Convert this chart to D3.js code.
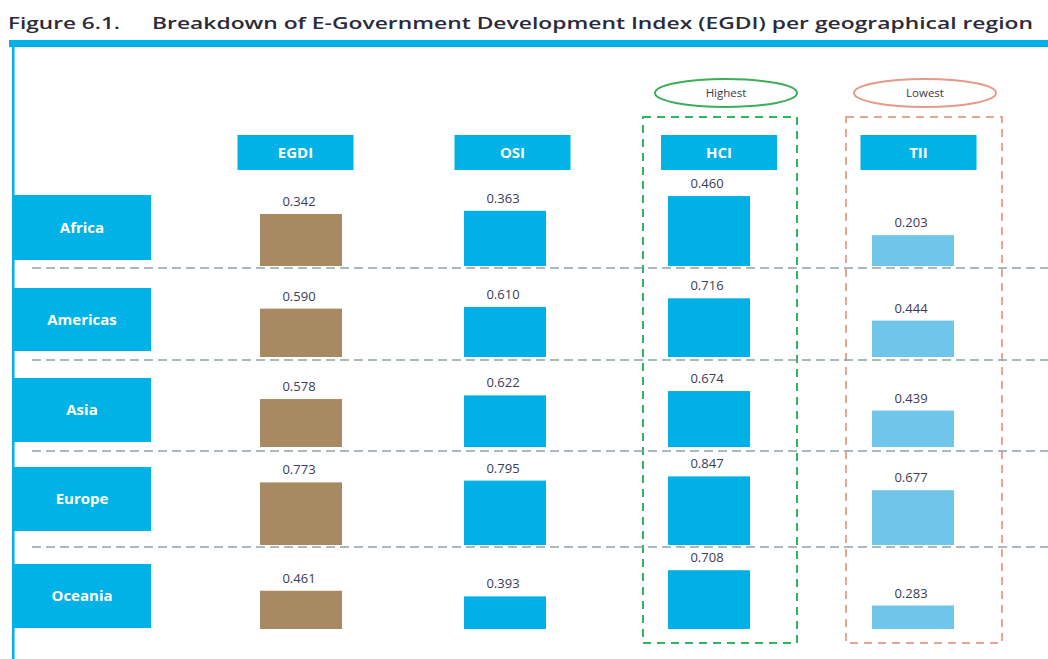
<!DOCTYPE html>
<html>
<head>
<meta charset="utf-8">
<script src="https://cdn.jsdelivr.net/npm/d3@7"></script>
<style>
  body { margin: 0; background: #fff; }
  text { font-family: "Open Sans", "DejaVu Sans", sans-serif; }
</style>
</head>
<body>
<div id="chart"></div>
<script>
// data
var regions = ["Africa", "Americas", "Asia", "Europe", "Oceania"]
var indexNames = ["EGDI", "OSI", "HCI", "TII"]
var egdiValues = [0.342, 0.590, 0.578, 0.773, 0.461]
var osiValues = [0.363, 0.610, 0.622, 0.795, 0.393]
var hciValues = [0.460, 0.716, 0.674, 0.847, 0.708]
var tiiValues = [0.203, 0.444, 0.439, 0.677, 0.283]
var titleNumber = "Figure 6.1."
var titleText = "Breakdown of E-Government Development Index (EGDI) per geographical region"

var outerWidth = 1048, outerHeight = 659

// layout of each row band (label box, bar baseline, px per index unit)
var rowLayout = [
    { boxTop: 195, boxBottom: 260, base: 266, pxPerUnit: 152, divider: 268 },
    { boxTop: 288, boxBottom: 351, base: 357, pxPerUnit: 82, divider: 360 },
    { boxTop: 378, boxBottom: 442, base: 447, pxPerUnit: 83, divider: 451 },
    { boxTop: 467, boxBottom: 531, base: 545, pxPerUnit: 81, divider: 547 },
    { boxTop: 564, boxBottom: 628, base: 629, pxPerUnit: 83, divider: null }
]
var headerCenters = [295.5, 512.5, 719, 918.5]
var barColors = ["#a88a62", "#00b0e6", "#00b0e6", "#6fc6ea"]
var blue = "#00b2e6"

var series = [egdiValues, osiValues, hciValues, tiiValues]

var svg = d3.select("#chart")
    .append("svg")
    .attr("width", outerWidth)
    .attr("height", outerHeight)

// title
svg.append("text")
    .attr("x", 8).attr("y", 29)
    .attr("font-size", "17px")
    .attr("font-weight", 600)
    .attr("fill", "#2b2b3a")
    .attr("textLength", 112).attr("lengthAdjust", "spacingAndGlyphs")
    .text(titleNumber)
svg.append("text")
    .attr("x", 152).attr("y", 29)
    .attr("font-size", "17px")
    .attr("font-weight", 600)
    .attr("fill", "#2b2b3a")
    .attr("textLength", 1033 - 152).attr("lengthAdjust", "spacingAndGlyphs")
    .text(titleText)

// frame lines
svg.append("rect").attr("x", 9).attr("y", 40).attr("width", outerWidth - 9).attr("height", 7).attr("fill", blue)
svg.append("rect").attr("x", 12).attr("y", 40).attr("width", 2.5).attr("height", outerHeight - 40).attr("fill", blue)

// column positions
var xScale = d3.scalePoint().domain(indexNames).range([301, 913])
var barWidth = 82

// highlight boxes (HCI highest, TII lowest)
var highlights = [
    { name: "HCI", label: "Highest", color: "#2fb55c", ellipse: "#3aae5a", x0: 643, x1: 797, cx: 726 },
    { name: "TII", label: "Lowest", color: "#eaa496", ellipse: "#e59a8a", x0: 846, x1: 1002, cx: 925 }
]
highlights.forEach(function(h) {
    svg.append("rect")
        .attr("x", h.x0).attr("y", 117)
        .attr("width", h.x1 - h.x0).attr("height", 643 - 117)
        .attr("fill", "none")
        .attr("stroke", h.color)
        .attr("stroke-width", 2)
        .attr("stroke-dasharray", "8,6")
    svg.append("ellipse")
        .attr("cx", h.cx).attr("cy", 93)
        .attr("rx", 71).attr("ry", 14)
        .attr("fill", "none")
        .attr("stroke", h.ellipse)
        .attr("stroke-width", 2)
    svg.append("text")
        .attr("x", h.cx).attr("y", 97)
        .attr("text-anchor", "middle")
        .attr("font-size", "11.5px")
        .attr("fill", "#3a3a4a")
        .text(h.label)
})

// dashed row dividers
rowLayout.forEach(function(r) {
    if (r.divider === null) return
    svg.append("line")
        .attr("x1", 32).attr("x2", outerWidth)
        .attr("y1", r.divider).attr("y2", r.divider)
        .attr("stroke", "#8fa3a8")
        .attr("stroke-width", 1.6)
        .attr("stroke-dasharray", "9,5")
})

// column headers
indexNames.forEach(function(name, j) {
    svg.append("rect")
        .attr("x", headerCenters[j] - 58).attr("y", 135)
        .attr("width", 116).attr("height", 35)
        .attr("fill", blue)
    svg.append("text")
        .attr("x", headerCenters[j]).attr("y", 158)
        .attr("text-anchor", "middle")
        .attr("font-size", "15px")
        .attr("font-weight", "bold")
        .attr("fill", "#fff")
        .text(name)
})

// rows
regions.forEach(function(region, i) {
    var r = rowLayout[i]
    svg.append("rect")
        .attr("x", 12).attr("y", r.boxTop)
        .attr("width", 139).attr("height", r.boxBottom - r.boxTop)
        .attr("fill", blue)
    svg.append("text")
        .attr("x", 82).attr("y", (r.boxTop + r.boxBottom) / 2 + 5)
        .attr("text-anchor", "middle")
        .attr("font-size", "15px")
        .attr("font-weight", "bold")
        .attr("fill", "#fff")
        .text(region)

    var yScale = d3.scaleLinear().domain([0, 1]).range([r.base, r.base - r.pxPerUnit])

    indexNames.forEach(function(name, j) {
        var v = series[j][i]
        svg.append("rect")
            .attr("x", xScale(name) - barWidth / 2)
            .attr("y", yScale(v))
            .attr("width", barWidth)
            .attr("height", yScale(0) - yScale(v))
            .attr("fill", barColors[j])
        svg.append("text")
            .attr("x", xScale(name) - 2)
            .attr("y", yScale(v) - 8)
            .attr("text-anchor", "middle")
            .attr("font-size", "13px")
            .attr("fill", "#3c3c58")
            .text(v.toFixed(3))
    })
})
</script>
</body>
</html>
